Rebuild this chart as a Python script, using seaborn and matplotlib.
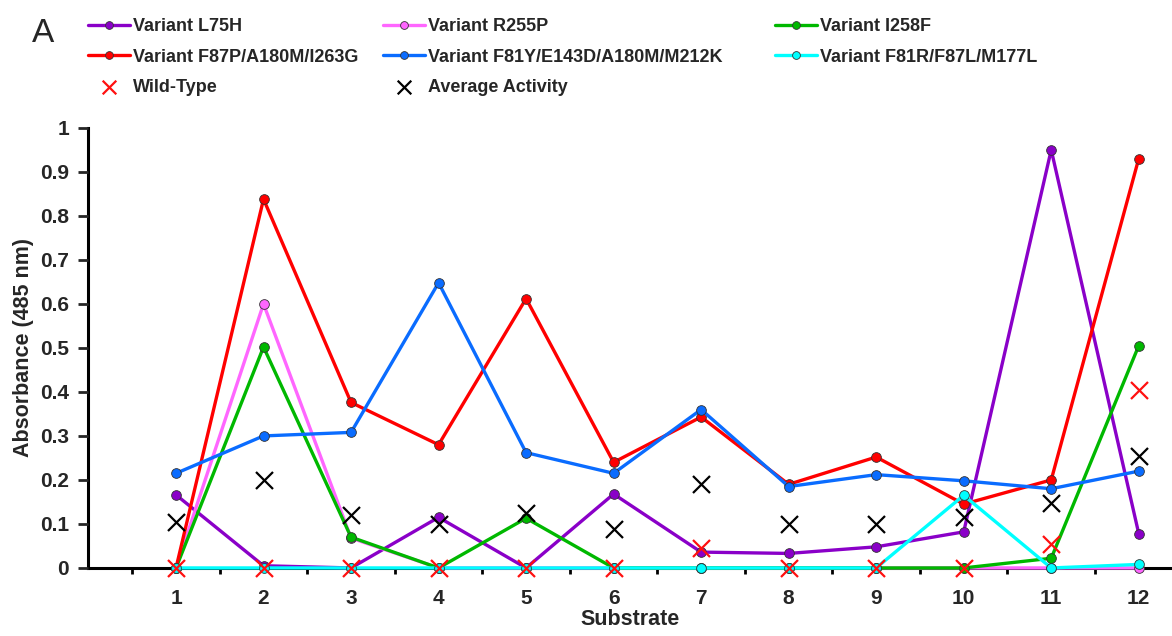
import numpy as np
import pandas as pd
import matplotlib
matplotlib.use("Agg")
import matplotlib.pyplot as plt
from matplotlib.ticker import FuncFormatter, FixedLocator
import seaborn as sns

substrates = list(range(1, 13))

l75h = [0.166, 0.005, 0.0, 0.115, 0.0, 0.168, 0.036, 0.033, 0.048, 0.082, 0.950, 0.078]
r255p = [0.0, 0.600, 0.068, 0.0, 0.0, 0.0, 0.0, 0.0, 0.0, 0.0, 0.0, 0.0]
i258f = [0.0, 0.502, 0.070, 0.0, 0.113, 0.0, 0.0, 0.0, 0.0, 0.0, 0.022, 0.505]
f87p = [0.0, 0.838, 0.376, 0.280, 0.612, 0.240, 0.343, 0.190, 0.252, 0.145, 0.200, 0.930]
f81y = [0.215, 0.300, 0.308, 0.648, 0.262, 0.215, 0.360, 0.185, 0.212, 0.198, 0.180, 0.220]
f81r = [0.0, 0.0, 0.0, 0.0, 0.0, 0.0, 0.0, 0.0, 0.0, 0.165, 0.0, 0.008]
wild_type = [0.0, 0.0, 0.0, 0.0, 0.0, 0.0, 0.045, 0.0, 0.0, 0.0, 0.055, 0.405]
average = [0.105, 0.200, 0.120, 0.100, 0.125, 0.088, 0.190, 0.100, 0.100, 0.115, 0.148, 0.255]

series = [
    ("Variant L75H", l75h, "#8A00C8"),
    ("Variant R255P", r255p, "#FF66FF"),
    ("Variant I258F", i258f, "#00B800"),
    ("Variant F87P/A180M/I263G", f87p, "#FF0000"),
    ("Variant F81Y/E143D/A180M/M212K", f81y, "#0A6CFF"),
    ("Variant F81R/F87L/M177L", f81r, "#00FFFF"),
]

sns.set_style("ticks")
plt.rcParams['font.family'] = ['Liberation Sans', 'DejaVu Sans']
plt.rcParams['font.weight'] = 'bold'

fig = plt.figure(figsize=(11.72, 6.36), dpi=100)
ax = fig.add_axes([0.0755, 0.107, 0.9245, 0.692])

handles = {}
for name, vals, col in series:
    df = pd.DataFrame({"Substrate": substrates, "val": vals})
    sns.lineplot(data=df, x="Substrate", y="val", ax=ax, color=col, linewidth=2.4,
                 marker="o", markersize=7, markeredgecolor="#333333",
                 markeredgewidth=0.6, label=name, clip_on=False, legend=False)
    handles[name] = ax.lines[-1]

df_wt = pd.DataFrame({"Substrate": substrates, "val": wild_type})
sns.scatterplot(data=df_wt, x="Substrate", y="val", ax=ax, marker="x", color="#FF1010",
                s=150, linewidth=1.6, clip_on=False, zorder=5, legend=False)
wt_h = ax.collections[-1]
df_av = pd.DataFrame({"Substrate": substrates, "val": average})
sns.scatterplot(data=df_av, x="Substrate", y="val", ax=ax, marker="x", color="black",
                s=150, linewidth=1.6, clip_on=False, zorder=5, legend=False)
av_h = ax.collections[-1]

ax.set_xlim(0, 12.38)
ax.set_ylim(0, 1)
ax.set_yticks(np.arange(0, 1.01, 0.1))
ax.yaxis.set_major_formatter(FuncFormatter(lambda v, p: "%g" % round(v, 1)))
ax.set_xticks(substrates)
ax.set_xticklabels([str(s) for s in substrates])
ax.xaxis.set_minor_locator(FixedLocator(np.arange(0.5, 12, 1.0)))
ax.tick_params(axis='x', which='major', length=0, labelsize=15, pad=15)
ax.tick_params(axis='x', which='minor', length=4, width=2, direction='out', color='black')
ax.tick_params(axis='y', which='major', length=7, width=2, direction='out', labelsize=15, pad=7)
for lab in ax.get_xticklabels() + ax.get_yticklabels():
    lab.set_fontweight('bold')

for s in ["top", "right"]:
    ax.spines[s].set_visible(False)
for s in ["left", "bottom"]:
    ax.spines[s].set_linewidth(2.2)
    ax.spines[s].set_color("black")
    ax.spines[s].set_zorder(0.5)

ax.set_xlabel("Substrate", fontsize=15.5, fontweight='bold', labelpad=1)
ax.set_ylabel("Absorbance (485 nm)", fontsize=15.5, fontweight='bold', labelpad=4)

columns = [
    ([handles["Variant L75H"], handles["Variant F87P/A180M/I263G"], wt_h],
     ["Variant L75H", "Variant F87P/A180M/I263G", "Wild-Type"], 88),
    ([handles["Variant R255P"], handles["Variant F81Y/E143D/A180M/M212K"], av_h],
     ["Variant R255P", "Variant F81Y/E143D/A180M/M212K", "Average Activity"], 383),
    ([handles["Variant I258F"], handles["Variant F81R/F87L/M177L"]],
     ["Variant I258F", "Variant F81R/F87L/M177L"], 775),
]
W, H = 1172, 636
for hs, ls, xpix in columns:
    fig.legend(hs, ls, ncol=1, loc="upper left", bbox_to_anchor=(xpix / W, 1 - 18 / H),
               frameon=False, prop={'size': 13, 'weight': 'bold'}, handlelength=2.3,
               handletextpad=0.2, labelspacing=0.75, borderaxespad=0, borderpad=0,
               markerscale=0.8)

fig.text(0.027, 0.947, "A", fontsize=24, fontweight='normal', va='center')

fig.savefig("out.png", dpi=100)
